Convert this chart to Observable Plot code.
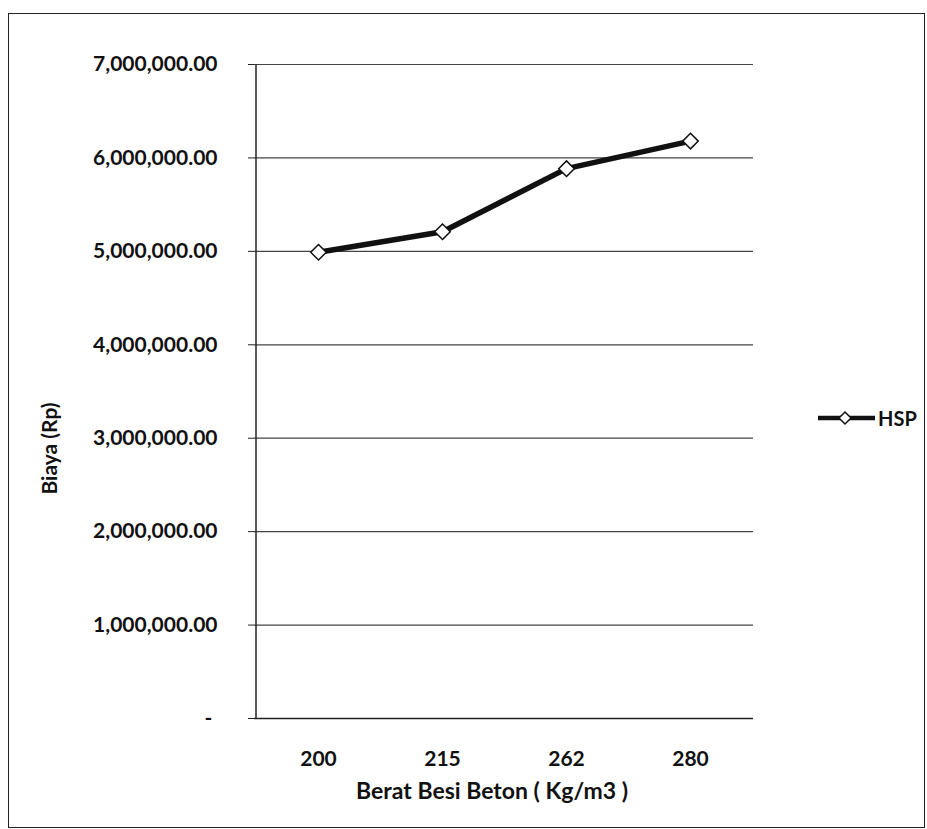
<!DOCTYPE html>
<html>
<head>
<meta charset="utf-8">
<script src="https://cdn.jsdelivr.net/npm/d3@7"></script>
<script src="https://cdn.jsdelivr.net/npm/@observablehq/plot@0.6"></script>
<style>
  html, body { margin: 0; padding: 0; background: #fff; }
  #wrap { position: relative; width: 927px; height: 829px; }
  #frame { position: absolute; left: 8px; top: 13px; width: 917px; height: 815px; border: 1.5px solid #222; box-sizing: border-box; pointer-events: none; }
  #legend { position: absolute; left: 816px; top: 404px; font-family: Lato, "Open Sans", sans-serif; font-weight: 700; font-size: 20px; color: #111; display: flex; align-items: center; gap: 2px; }
</style>
</head>
<body>
<div id="wrap">
  <div id="chart"></div>
  <div id="frame"></div>
  <div id="legend">
    <svg width="60" height="28"><line x1="2" y1="14" x2="59" y2="14" stroke="#111" stroke-width="4.5"/><path d="M29,8 L35,14 L29,20 L23,14 Z" fill="#fff" stroke="#111" stroke-width="1.5"/></svg>
    <span>HSP</span>
  </div>
</div>
<script>
const categories = ["200", "215", "262", "280"];
const hsp = [4990000, 5210000, 5885000, 6180000];
const yTicks = [0, 1000000, 2000000, 3000000, 4000000, 5000000, 6000000, 7000000];
const seriesName = "HSP";

const data = categories.map((c, i) => ({cat: c, value: hsp[i], series: seriesName}));
const fmt = d => d === 0 ? "-\u00a0" : d3.format(",.2f")(d);

const chart = Plot.plot({
  width: 927,
  height: 829,
  marginLeft: 254,
  marginRight: 174,
  marginTop: 64,
  marginBottom: 111,
  style: {fontFamily: "Lato, 'Open Sans', sans-serif", fontSize: "21px", fontWeight: 700, color: "#111", background: "#fff"},
  x: {type: "band", domain: categories, padding: 0, label: null},
  y: {domain: [0, 7000000], ticks: yTicks, label: null},
  marks: [
    Plot.gridY(yTicks, {stroke: "#444", strokeOpacity: 1, strokeWidth: 1.2}),
    Plot.ruleX(categories.slice(0, 1), {dx: -62.5, stroke: "#222", strokeWidth: 1.5}),
    Plot.ruleY([0], {stroke: "#222", strokeWidth: 1.5}),
    Plot.axisY(yTicks, {tickFormat: fmt, tickSize: 6, tickPadding: 31, stroke: "#222", fontSize: 21, fontWeight: 700}),
    Plot.axisX({tickSize: 0, tickPadding: 33, fontSize: 21, fontWeight: 700}),
    Plot.text(["Biaya (Rp)"], {frameAnchor: "left", textAnchor: "middle", dx: -204, dy: 57, rotate: -90, fontSize: 21, fontWeight: 700}),
    Plot.text(["Berat Besi Beton ( Kg/m3 )"], {frameAnchor: "bottom", dx: -12, dy: 80, fontSize: 23, fontWeight: 700, letterSpacing: "1.2px"}),
    Plot.line(data, {x: "cat", y: "value", stroke: "#111", strokeWidth: 5.5, strokeLinejoin: "round"}),
    Plot.dot(data, {x: "cat", y: "value", symbol: "diamond2", r: 7, fill: "#fff", stroke: "#111", strokeWidth: 1.5})
  ]
});
document.getElementById("chart").appendChild(chart);
</script>
</body>
</html>
